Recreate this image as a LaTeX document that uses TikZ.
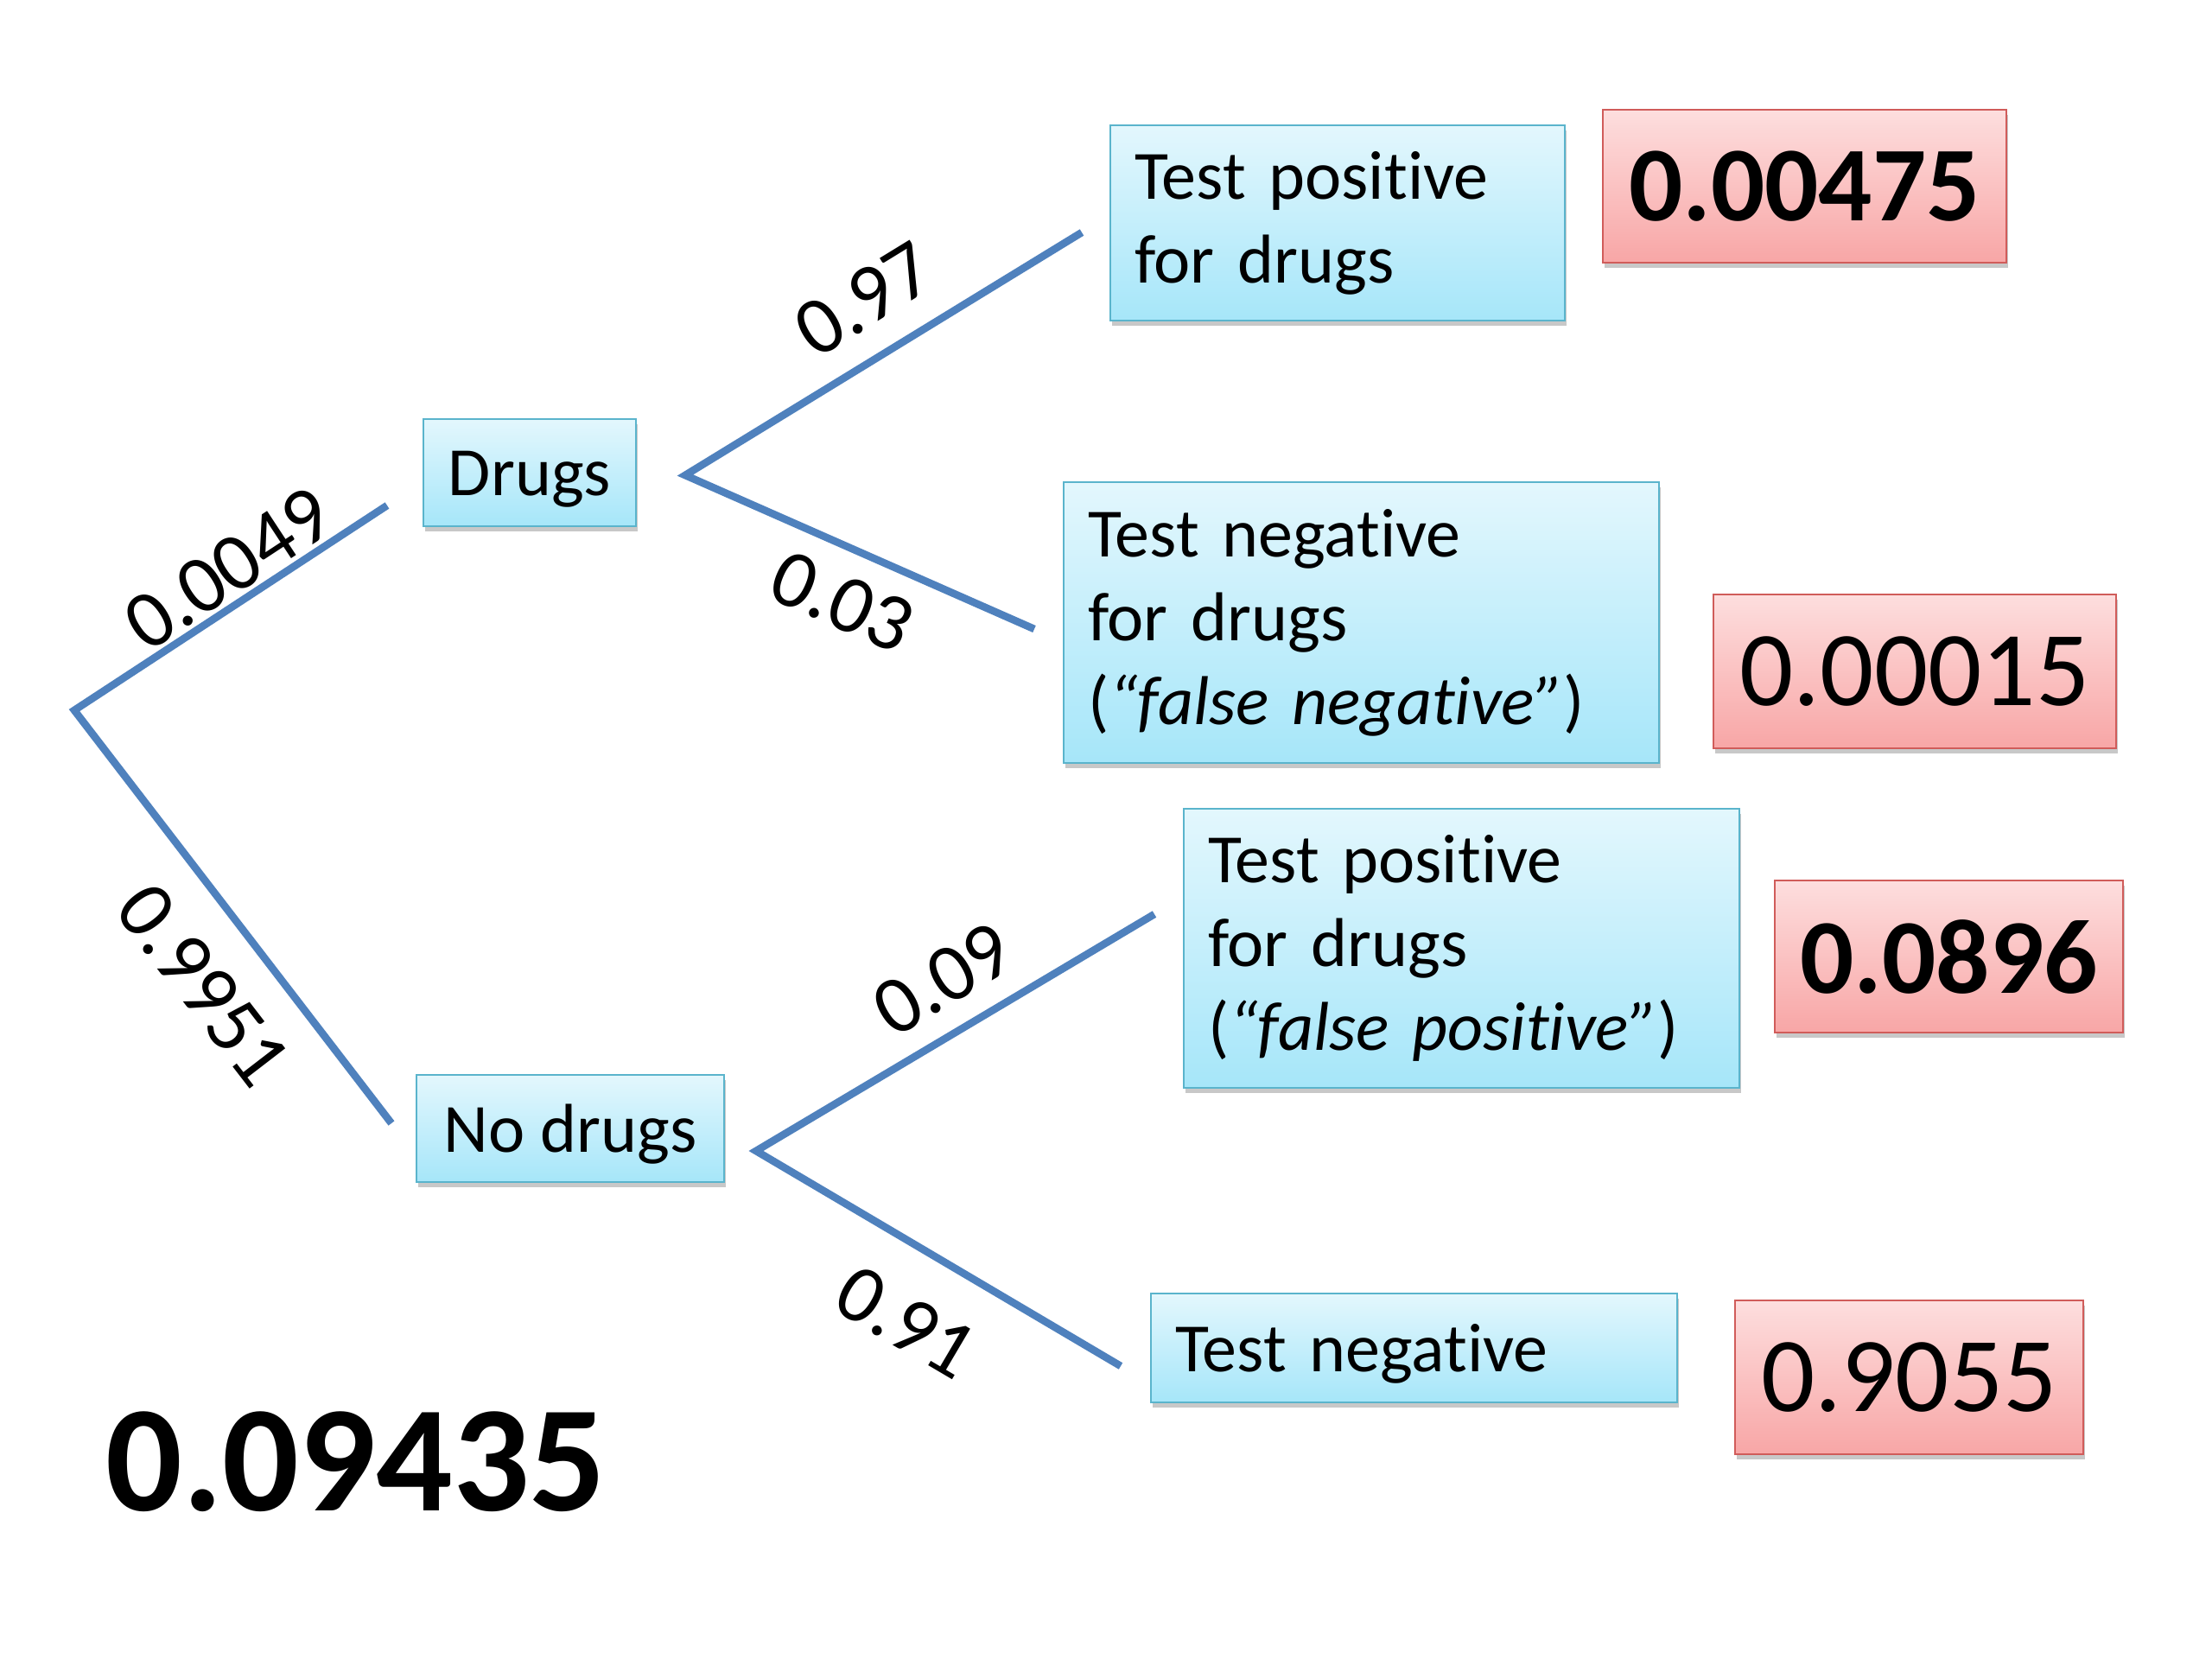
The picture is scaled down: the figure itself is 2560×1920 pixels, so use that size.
\documentclass[tikz,border=0pt]{standalone}
\usepackage{fontspec}
\setmainfont{Carlito}[Ligatures=NoCommon]
\usetikzlibrary{shadows}
\definecolor{branchblue}{HTML}{4F81BD}
\definecolor{bluetop}{HTML}{E3F7FD}
\definecolor{bluebot}{HTML}{A6E6F9}
\definecolor{bluebd}{HTML}{5AB4CC}
\definecolor{redtop}{HTML}{FDDEDE}
\definecolor{redbot}{HTML}{F8A6A6}
\definecolor{redbd}{HTML}{D05C5A}
\begin{document}
\begin{tikzpicture}[x=0.3pt,y=-0.3pt,
  branch/.style={draw=branchblue, line width=2.6pt},
  softshadow/.style={drop shadow={shadow xshift=0.5pt, shadow yshift=-1.8pt, opacity=0.3, fill=black!70}},
  bluebox/.style={draw=bluebd, line width=0.8pt, top color=bluetop, bottom color=bluebot,
    softshadow, inner xsep=8.4pt, inner ysep=0pt,
    font=\fontsize{24pt}{29.1pt}\selectfont},
  onebox/.style={bluebox, text height=16.2pt, text depth=0pt, inner xsep=0pt},
  redbox/.style={draw=redbd, line width=0.8pt, top color=redtop, bottom color=redbot,
    softshadow, inner sep=0pt, text depth=0pt,
    font=\fontsize{36.9pt}{44pt}\selectfont},
  prob/.style={inner sep=0pt, text depth=0pt, font=\fontsize{28.5pt}{34pt}\selectfont},
]
\fill[white] (0,0) rectangle (2560,1920);
\useasboundingbox (0,0) rectangle (2560,1920);

% tree nodes
\node[onebox, minimum width=73.8pt, minimum height=37.2pt] (drugs) at (613,547) {Drugs};
\node[onebox, minimum width=106.8pt, minimum height=37.2pt] (nodrugs) at (660,1306) {No drugs};

\node[bluebox, text width=141pt, align=left, minimum height=67.8pt] (tp1) at (1548,258)
  {Test positive\\for drugs};
\node[bluebox, text width=189.9pt, align=left, minimum height=97.5pt] (tn1) at (1575.5,720.5)
  {Test negative\\for drugs\\(\textit{“false negative”})};
\node[bluebox, text width=176.1pt, align=left, minimum height=96.9pt] (tp2) at (1691.5,1097.5)
  {Test positive\\for drugs\\(\textit{“false positive”})};
\node[onebox, text width=165.9pt, align=left, inner xsep=8.4pt, minimum height=37.8pt] (tn2) at (1636.5,1560)
  {Test negative};

% result boxes
\node[redbox, minimum width=140.1pt, minimum height=53.1pt] (r1) at (2088.5,215.5) {\bfseries 0.00475};
\node[redbox, minimum width=139.8pt, minimum height=53.4pt] (r2) at (2216,777) {0.00015};
\node[redbox, minimum width=120.9pt, minimum height=52.8pt] (r3) at (2255.5,1107) {\bfseries 0.0896};
\node[redbox, minimum width=120.9pt, minimum height=53.4pt] (r4) at (2209.5,1594) {0.9055};

\node[inner sep=0pt, anchor=base, font=\fontsize{52.5pt}{60pt}\selectfont\bfseries] (total) at (412,1748) {0.09435};

% branch points
\coordinate (root) at (86,822);
\coordinate (dIn) at (448,585);
\coordinate (ndIn) at (453,1300);
\coordinate (dOut) at (793,550);
\coordinate (tp1In) at (1252,269);
\coordinate (tn1In) at (1197,728);
\coordinate (ndOut) at (875,1332);
\coordinate (tp2In) at (1336,1058);
\coordinate (tn2In) at (1297,1581);

\draw[branch] (dIn) -- (root) -- (ndIn);
\draw[branch] (tp1In) -- (dOut) -- (tn1In);
\draw[branch] (tp2In) -- (ndOut) -- (tn2In);

% branch probabilities
\node[prob, rotate=33.3] (p1) at (264,658) {0.0049};
\node[prob, rotate=-52.4] (p2) at (236,1140) {0.9951};
\node[prob, rotate=31.5] (p3) at (1000,346) {0.97};
\node[prob, rotate=-23.8] (p4) at (975,696) {0.03};
\node[prob, rotate=30.7] (p5) at (1091,1133) {0.09};
\node[prob, rotate=-30.5] (p6) at (1049,1530) {0.91};
\end{tikzpicture}
\end{document}
